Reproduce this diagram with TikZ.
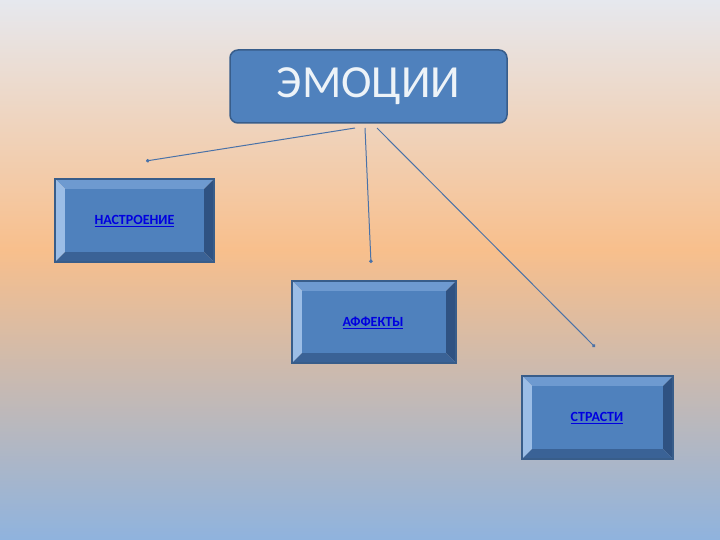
\documentclass[tikz,border=0pt]{standalone}
\usepackage{fontspec}
\setmainfont{Carlito}
\usetikzlibrary{arrows.meta}
\definecolor{bgtop}{HTML}{E6E8EE}
\definecolor{bgmid}{HTML}{F8BF8C}
\definecolor{bgbot}{HTML}{8FB3DE}
\definecolor{boxfill}{HTML}{4F81BD}
\definecolor{boxedge}{HTML}{385D8A}
\definecolor{bevtop}{HTML}{6E9AD0}
\definecolor{bevleft}{HTML}{9BBDE6}
\definecolor{bevright}{HTML}{2F5282}
\definecolor{bevbot}{HTML}{3A6296}
\definecolor{linkblue}{HTML}{0000E0}
\definecolor{conn}{HTML}{4A72A8}
\newcommand{\bevelbox}[5]{% name, x1,y1,x2,y2
  \fill[bevtop] (#2,#3) -- (#4,#3) -- (#4-10,#3+10) -- (#2+10,#3+10) -- cycle;
  \fill[bevleft] (#2,#3) -- (#2+10,#3+10) -- (#2+10,#5-10) -- (#2,#5) -- cycle;
  \fill[bevright] (#4,#3) -- (#4,#5) -- (#4-10,#5-10) -- (#4-10,#3+10) -- cycle;
  \fill[bevbot] (#2,#5) -- (#4,#5) -- (#4-10,#5-10) -- (#2+10,#5-10) -- cycle;
  \fill[boxfill] (#2+10,#3+10) rectangle (#4-10,#5-10);
  \draw[boxedge,line width=1.2pt] (#2,#3) rectangle (#4,#5);
  \coordinate (#1) at ({(#2+#4)/2},{(#3+#5)/2});
}
\tikzset{
  lbl/.style={text=linkblue,font=\bfseries\fontsize{14}{16}\selectfont},
  conline/.style={conn,line width=1pt,-{Circle[length=3.5pt]}}
}
\begin{document}
\begin{tikzpicture}[x=1pt,y=-1pt]
\useasboundingbox (0,0) rectangle (720,540);
\shade[top color=bgtop,bottom color=bgmid] (0,0) rectangle (720,250);
\shade[top color=bgmid,bottom color=bgbot] (0,249.5) rectangle (720,540);
\node[draw=boxedge,line width=1.5pt,fill=boxfill,rounded corners=8pt,minimum width=277pt,minimum height=73pt,text=white!90!boxfill,font=\fontsize{46}{50}\selectfont] (emo) at (368.5,86.5) {ЭМОЦИИ};
\bevelbox{nast}{55}{179}{214}{262}
\bevelbox{aff}{292}{281}{456}{363}
\bevelbox{str}{522}{376}{673}{459}
\node[lbl] (tn) at (134.5,221) {\underline{НАСТРОЕНИЕ}};
\node[lbl] (ta) at (373,323) {\underline{АФФЕКТЫ}};
\node[lbl] (ts) at (597,418) {\underline{СТРАСТИ}};
\coordinate (s1) at (355,128); \coordinate (e1) at (146,161);
\coordinate (s2) at (365,128); \coordinate (e2) at (371,263);
\coordinate (s3) at (377,128); \coordinate (e3) at (595,347);
\draw[conline] (s1) -- (e1);
\draw[conline] (s2) -- (e2);
\draw[conline] (s3) -- (e3);
\end{tikzpicture}
\end{document}
